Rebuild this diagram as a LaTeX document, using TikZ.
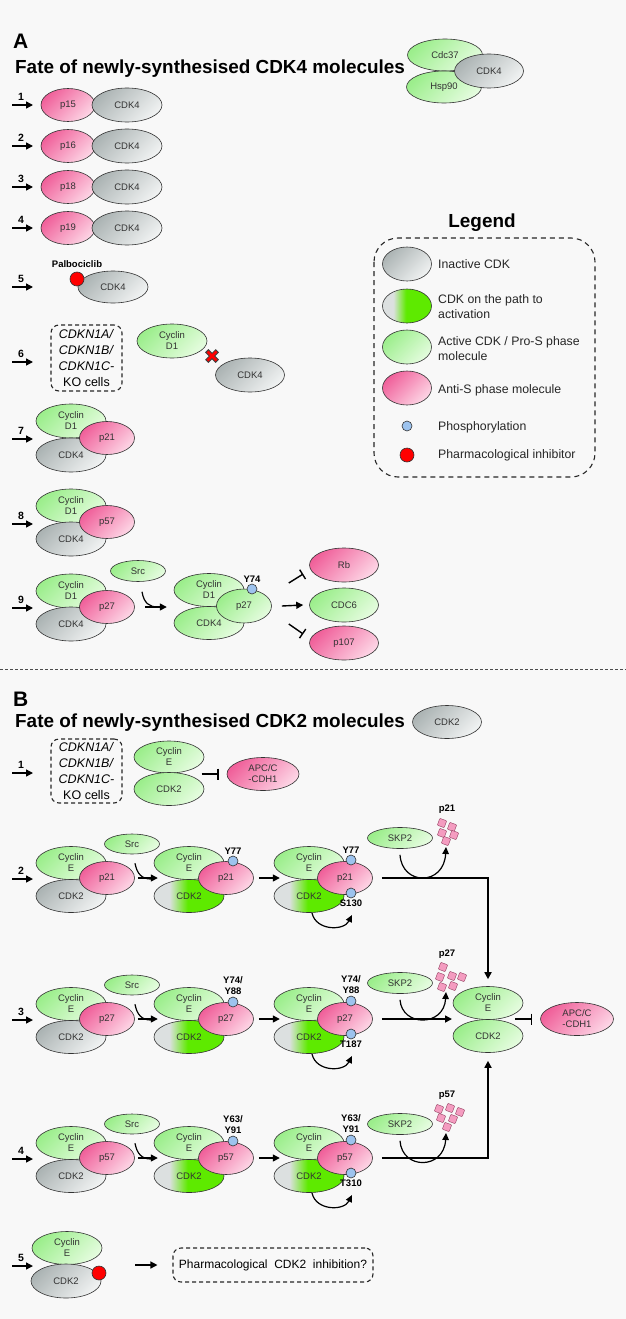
\documentclass[tikz,border=0pt]{standalone}
\usepackage{fontspec}
\setmainfont{Liberation Sans}
\usetikzlibrary{shapes.geometric,arrows.meta,positioning}

\definecolor{bg}{HTML}{F8F8F8}
\definecolor{grayA}{HTML}{ACB4B4}
\definecolor{grayB}{HTML}{F0F2F2}
\definecolor{greenA}{HTML}{9CEE8C}
\definecolor{greenB}{HTML}{E4FCDE}
\definecolor{pinkA}{HTML}{F0609A}
\definecolor{pinkB}{HTML}{FDD5E5}
\definecolor{waygray}{HTML}{DCE0E0}
\definecolor{waygreen}{HTML}{5EEA00}
\definecolor{phosblue}{HTML}{9DC3EE}
\definecolor{bitpink}{HTML}{F49CC0}

\pgfdeclarehorizontalshading{cdkway}{100bp}{color(0bp)=(waygray); color(25bp)=(waygray); color(36bp)=(waygray); color(49bp)=(waygreen); color(100bp)=(waygreen)}

\tikzset{
	mol/.style={ellipse,draw=black!80,line width=0.6pt,inner sep=0pt,align=center,
		text=black!80,font=\fontsize{9.5}{11}\selectfont},
	inact/.style={mol,top color=grayA,bottom color=grayB,shading angle=45},
	act/.style={mol,top color=greenA,bottom color=greenB,shading angle=45},
	anti/.style={mol,top color=pinkA,bottom color=pinkB,shading angle=45},
	onway/.style={mol,shade,shading=cdkway},
	cdk/.style={minimum width=70pt,minimum height=33pt},
	inh/.style={minimum width=55pt,minimum height=33pt},
	src/.style={minimum width=55pt,minimum height=20pt},
	phos/.style={circle,draw=black!80,line width=0.6pt,fill=phosblue,minimum size=10pt,inner sep=0pt},
	drug/.style={circle,draw=black!80,line width=0.6pt,fill=red,minimum size=14pt,inner sep=0pt},
	bit/.style={star,star points=4,star point ratio=1.45,minimum size=10.5pt,inner sep=0pt,
		rounded corners=0.8pt,fill=bitpink,draw=pinkA!60!black,line width=0.4pt,rotate=25},
	ko/.style={draw=black!85,dash pattern=on 4pt off 3pt,line width=1.1pt,rounded corners=8pt,
		inner sep=0pt,align=center,font=\fontsize{12.5}{16}\selectfont},
	head/.style={font=\fontsize{21}{24}\bfseries\selectfont,inner sep=0pt},
	title/.style={font=\fontsize{18.9}{22}\bfseries\selectfont,inner sep=0pt},
	num/.style={font=\fontsize{10.5}{12}\bfseries\selectfont,inner sep=0pt},
	site/.style={font=\fontsize{9.5}{11}\bfseries\selectfont,inner sep=0.5pt,align=center},
	legtext/.style={font=\fontsize{12.3}{15}\selectfont,text=black!85,inner sep=0pt,anchor=west,align=left},
	go/.style={-{Triangle[length=7pt,width=7pt]},line width=1.4pt},
	curv/.style={-{Triangle[length=7pt,width=6.5pt]},line width=1.2pt},
	blunt/.style={-{Bar[width=11pt,line width=1.4pt]},line width=1.4pt}
}

% entry arrow with its row number
\def\rowin#1#2#3{
	\coordinate (#1) at (12,#3);
	\node[num] (#1n) at (21,#3-8) {#2};
	\draw[go] (#1) -- ++(21,0);
}
% one row of panel B: free complex, Src step, phosphorylated complex
\def\brow#1#2#3#4#5#6{
	\rowin{#1}{#2}{#3+16}
	\path (71,#3) node(#1c1)[act,cdk] {Cyclin\\E}
			(71,#3+33) node(#1k1)[inact,cdk] {CDK2}
			(107,#3+15) node(#1p1)[anti,inh] {#4}
			(132,#3-19) node(#1src)[act,src] {Src}
			(189,#3) node(#1c2)[act,cdk] {Cyclin\\E}
			(189,#3+33) node(#1k2)[onway,cdk] {CDK2}
			(226,#3+15) node(#1p2)[anti,inh] {#4}
			(233,#3-2) node(#1d2)[phos] {}
			(309,#3) node(#1c3)[act,cdk] {Cyclin\\E}
			(309,#3+33) node(#1k3)[onway,cdk] {CDK2}
			(345,#3+15) node(#1p3)[anti,inh] {#4}
			(351,#3-3) node(#1d3)[phos] {}
			(351,#3+30) node(#1e3)[phos] {};
	\node[site,above=1pt of #1d2] (#1s2) {#5};
	\node[site,above=1pt of #1d3] (#1s3) {#5};
	\node[site,below=1pt of #1e3] (#1t3) {#6};
	\draw[go] ([xshift=3pt]#1p1.east) -- ++(20,0);
	\draw[line width=1.2pt] ([xshift=3pt,yshift=-9pt]#1src.south) .. controls (137,#3+11) and (142,#3+16) .. (151,#3+16);
	\draw[go] ([xshift=5pt]#1p2.east) -- ++(21,0);
	\draw[curv] (312,#3+50) .. controls (316,#3+68) and (344,#3+68) .. (352,#3+52);
}
% SKP2 degradation of the inhibitor
\def\bdeg#1#2#3#4#5{
	\node[act,minimum width=65pt,minimum height=21pt] (#1skp) at (400,#2) {SKP2};
	\node[site] (#1lost) at (447,#2-29) {#3};
	\foreach \dx/\dy in {#5} \node[bit] at (447+\dx,#2-6+\dy) {};
	\draw[curv] ([yshift=-6pt]#1skp.south) .. controls (402,#4+9) and (444,#4+9) .. (446,#2+9);
}

\begin{document}
\begin{tikzpicture}[x=1pt,y=-1pt]
\fill[bg] (0,0) rectangle (626,1319);
\useasboundingbox (0,0) rectangle (626,1319);

%% panel A
\node[head,anchor=west] (Alab) at (13,41) {A};
\node[title,anchor=west] (Atitle) at (15,69) {Fate of newly-synthesised CDK4 molecules};
\path (445,55) node(Cdc37)[act,minimum width=75pt,minimum height=32pt] {Cdc37}
		(444,87) node(Hsp90)[act,minimum width=75pt,minimum height=32pt] {Hsp90}
		(489,71) node(Fold4)[inact,minimum width=69pt,minimum height=34pt] {CDK4};

\foreach \n/\y/\p in {1/105/p15,2/146/p16,3/187/p18,4/228/p19}{
	\rowin{A\n}{\n}{\y}
	\path (68,\y) node(A\n p)[anti,minimum width=54pt,minimum height=33pt] {\p}
			(127,\y) node(A\n c)[inact,cdk,minimum height=34pt] {CDK4};
}

\rowin{A5}{5}{287}
\path (113,287) node(A5c)[inact,cdk,minimum height=32pt] {CDK4}
		(77,279) node(A5d)[drug] {}
		(77,264) node(A5name)[site] {Palbociclib};

\rowin{A6}{6}{362}
\node[ko,minimum width=71pt,minimum height=66pt] (A6ko) at (86.5,358)
	{\textit{CDKN1A/}\\\textit{CDKN1B/}\\\textit{CDKN1C-}\\KO cells};
\path (172,341) node(A6cyc)[act,cdk,minimum height=34pt] {Cyclin\\D1}
		(250,375) node(A6cdk)[inact,cdk,minimum width=69pt,minimum height=34pt] {CDK4};
\coordinate (A6x) at (212,356);
\draw[line width=4.6pt,black!75] ([shift={(-5.3,-5.3)}]A6x) -- ([shift={(5.3,5.3)}]A6x)
	([shift={(-5.3,5.3)}]A6x) -- ([shift={(5.3,-5.3)}]A6x);
\draw[line width=2.8pt,red] ([shift={(-4.5,-4.5)}]A6x) -- ([shift={(4.5,4.5)}]A6x)
	([shift={(-4.5,4.5)}]A6x) -- ([shift={(4.5,-4.5)}]A6x);

\rowin{A7}{7}{439}
\path (71,421) node(A7cyc)[act,cdk,minimum height=34pt] {Cyclin\\D1}
		(71,455) node(A7cdk)[inact,cdk,minimum height=34pt] {CDK4}
		(107,438) node(A7p)[anti,inh] {p21};

\rowin{A8}{8}{524}
\path (71,506) node(A8cyc)[act,cdk,minimum height=34pt] {Cyclin\\D1}
		(71,539) node(A8cdk)[inact,cdk,minimum height=34pt] {CDK4}
		(107,522) node(A8p)[anti,inh] {p57};

\rowin{A9}{9}{608}
\path (71,591) node(A9cyc)[act,cdk,minimum height=34pt] {Cyclin\\D1}
		(71,624) node(A9cdk)[inact,cdk,minimum height=34pt] {CDK4}
		(107,607) node(A9p)[anti,inh] {p27}
		(138,571) node(A9src)[act,src,minimum height=21pt] {Src}
		(209,590) node(A9cyc2)[act,cdk] {Cyclin\\D1}
		(209,623) node(A9cdk2)[act,cdk] {CDK4}
		(244,606) node(A9p2)[act,inh,minimum height=34pt] {p27}
		(252,589) node(A9ph)[phos] {}
		(344,565) node(A9rb)[anti,cdk,minimum width=69pt,minimum height=34pt] {Rb}
		(344,605) node(A9cdc6)[act,cdk,minimum width=69pt,minimum height=34pt] {CDC6}
		(344,643) node(A9p107)[anti,cdk,minimum width=69pt,minimum height=34pt] {p107};
\node[site,above=1pt of A9ph] (A9y74) {Y74};
\draw[go] ([xshift=10pt]A9p.east) -- ++(22,0);
\draw[line width=1.2pt] ([xshift=4pt,yshift=-10pt]A9src.south) .. controls (144,603) and (149,607) .. (158,607);
\draw[go] ([xshift=10pt]A9p2.east) -- ([xshift=-6pt]A9cdc6.west);
\draw[blunt] ([shift={(17,-23)}]A9p2.east) -- ([shift={(-6,9)}]A9rb.west);
\draw[blunt] ([shift={(17,18)}]A9p2.east) -- ([shift={(-6,-9)}]A9p107.west);

%% legend
\node[title] (legT) at (482,223) {Legend};
\draw[black!85,dash pattern=on 5pt off 4pt,line width=1.1pt,rounded corners=24pt] (374,238) rectangle (595,477);
\path (407,264) node(L1)[inact,minimum width=49pt,minimum height=34pt] {}
		(407,306) node(L2)[onway,minimum width=49pt,minimum height=34pt] {}
		(407,347) node(L3)[act,minimum width=49pt,minimum height=34pt] {}
		(407,388) node(L4)[anti,minimum width=49pt,minimum height=34pt] {}
		(407,426) node(L5)[phos] {}
		(407,455) node(L6)[drug] {};
\node[legtext] (L1t) at (438,264) {Inactive CDK};
\node[legtext] (L2t) at (438,307) {CDK on the path to\\activation};
\node[legtext] (L3t) at (438,349) {Active CDK / Pro-S phase\\molecule};
\node[legtext] (L4t) at (438,390) {Anti-S phase molecule};
\node[legtext] (L5t) at (438,427) {Phosphorylation};
\node[legtext] (L6t) at (438,455) {Pharmacological inhibitor};

%% split
\draw[black!70,dash pattern=on 3pt off 2pt,line width=0.7pt] (0,669) -- (626,669);

%% panel B
\node[head,anchor=west] (Blab) at (13,699) {B};
\node[title,anchor=west] (Btitle) at (15,723) {Fate of newly-synthesised CDK2 molecules};
\node[inact,minimum width=69pt,minimum height=33pt] (B0cdk) at (447,722) {CDK2};

\rowin{B1}{1}{773}
\node[ko,minimum width=71pt,minimum height=64pt] (B1ko) at (86.5,771)
	{\textit{CDKN1A/}\\\textit{CDKN1B/}\\\textit{CDKN1C-}\\KO cells};
\path (169,757) node(B1cyc)[act,cdk,minimum height=32pt] {Cyclin\\E}
		(169,789) node(B1cdk)[act,cdk] {CDK2}
		(263,774) node(B1apc)[anti,minimum width=72pt,minimum height=33pt] {APC/C\\-CDH1};
\draw[blunt] ([xshift=-25pt]B1apc.west) -- ([xshift=-8pt]B1apc.west);

\brow{B2}{2}{863}{p21}{Y77}{S130}
\brow{B3}{3}{1004}{p27}{Y74/\\Y88}{T187}
\brow{B4}{4}{1143}{p57}{Y63/\\Y91}{T310}

\bdeg{B2}{838}{p21}{877}{-5/-9,5/-5,-5/1,7/3,-1/9}
\bdeg{B3}{983}{p27}{1018}{-4/-10,-7/0,5/-1,15/0,-5/10,6/9}
\bdeg{B4}{1124}{p57}{1161}{-8/-9,3/-10,13/-6,-6/0,6/1,0/9}

\path (488,1003) node(Fcyc)[act,cdk] {Cyclin\\E}
		(488,1036) node(Fcdk)[act,cdk] {CDK2}
		(577,1019) node(Fapc)[anti,minimum width=73pt,minimum height=33pt] {APC/C\\-CDH1};
\coordinate (join) at (452,1019);
\draw[go,line width=1.6pt] ([xshift=9pt]B2p3.east) -| ([yshift=7pt]Fcyc.north);
\draw[go,line width=1.6pt] ([xshift=9pt]B3p3.east) -- (join);
\draw[go,line width=1.6pt] ([xshift=9pt]B4p3.east) -| ([yshift=-8pt]Fcdk.south);
\draw[blunt] ([xshift=-25pt]Fapc.west) -- ([xshift=-8pt]Fapc.west);

\rowin{B5}{5}{1266}
\path (67,1248) node(B5cyc)[act,cdk] {Cyclin\\E}
		(66,1281) node(B5cdk)[inact,cdk,minimum height=34pt] {CDK2}
		(99,1273) node(B5d)[drug] {};
\node[ko,font=\fontsize{12}{14}\selectfont,minimum width=200pt,minimum height=34pt] (B5q) at (273,1265)
	{Pharmacological\ \ CDK2\ \ inhibition?};
\draw[go] ([xshift=-37pt]B5q.west) -- ([xshift=-15pt]B5q.west);
\end{tikzpicture}
\end{document}
